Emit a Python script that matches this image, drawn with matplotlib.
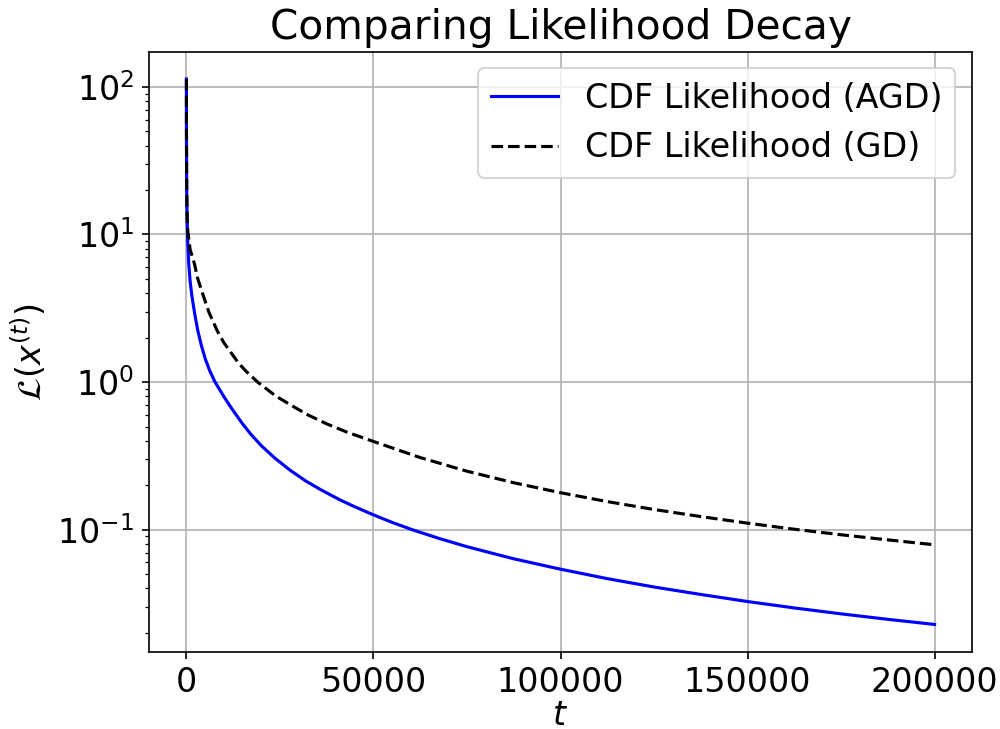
import matplotlib
matplotlib.use("Agg")
import matplotlib.pyplot as plt

# values (log scale)
t_agd = [0, 10, 50, 100, 200, 350, 620, 1000, 1510, 2200, 3030, 4000, 5070,
         6200, 7570, 9970, 12000, 14900, 17100, 20000, 23800, 27800, 32000,
         36000, 41100, 45000, 50000, 55000, 60700, 67500, 75000, 87500,
         100000, 112500, 125000, 137500, 150000, 162500, 175000, 187500,
         200000]
L_agd = [113, 50, 25, 18, 12.5, 9.0, 6.34, 4.8, 3.77, 2.92, 2.24, 1.77, 1.43,
         1.20, 1.01, 0.80, 0.668, 0.526, 0.447, 0.371, 0.303, 0.252, 0.213,
         0.186, 0.159, 0.143, 0.126, 0.112, 0.0993, 0.0873, 0.0767, 0.0635,
         0.054, 0.0466, 0.0409, 0.0364, 0.0326, 0.0295, 0.0269, 0.0247,
         0.0228]

t_gd = [0, 10, 50, 100, 200, 350, 1000, 2140, 3000, 4630, 6000, 8190, 10000,
        13970, 16000, 19040, 23800, 28700, 32600, 37600, 43000, 50000, 62500,
        75000, 87500, 100000, 112500, 125000, 137500, 150000, 162500, 175000,
        187500, 200000]
L_gd = [113, 55, 30, 18, 13, 10.6, 7.9, 6.34, 5.05, 3.77, 2.98, 2.24, 1.85,
        1.34, 1.18, 1.0, 0.807, 0.68, 0.597, 0.52, 0.457, 0.396, 0.308,
        0.249, 0.208, 0.178, 0.155, 0.137, 0.1227, 0.1107, 0.1007, 0.0924,
        0.0853, 0.079]

fig, ax = plt.subplots(figsize=(1000/150, 729/150), dpi=150)
fig.subplots_adjust(left=0.149, right=0.972, top=0.929, bottom=0.106)

ax.plot(t_agd, L_agd, color='blue', label='CDF Likelihood (AGD)')
ax.plot(t_gd, L_gd, color='black', linestyle='--', label='CDF Likelihood (GD)')
ax.set_yscale('log')
ax.set_title('Comparing Likelihood Decay', fontsize=19.5)
ax.set_xlabel('$t$', fontsize=16, labelpad=0)
ax.set_ylabel(r'$\mathcal{L}(x^{(t)})$', fontsize=16)
ax.tick_params(labelsize=16)
ax.legend(fontsize=16)
ax.grid(True)

fig.savefig('out.png', dpi=150)
